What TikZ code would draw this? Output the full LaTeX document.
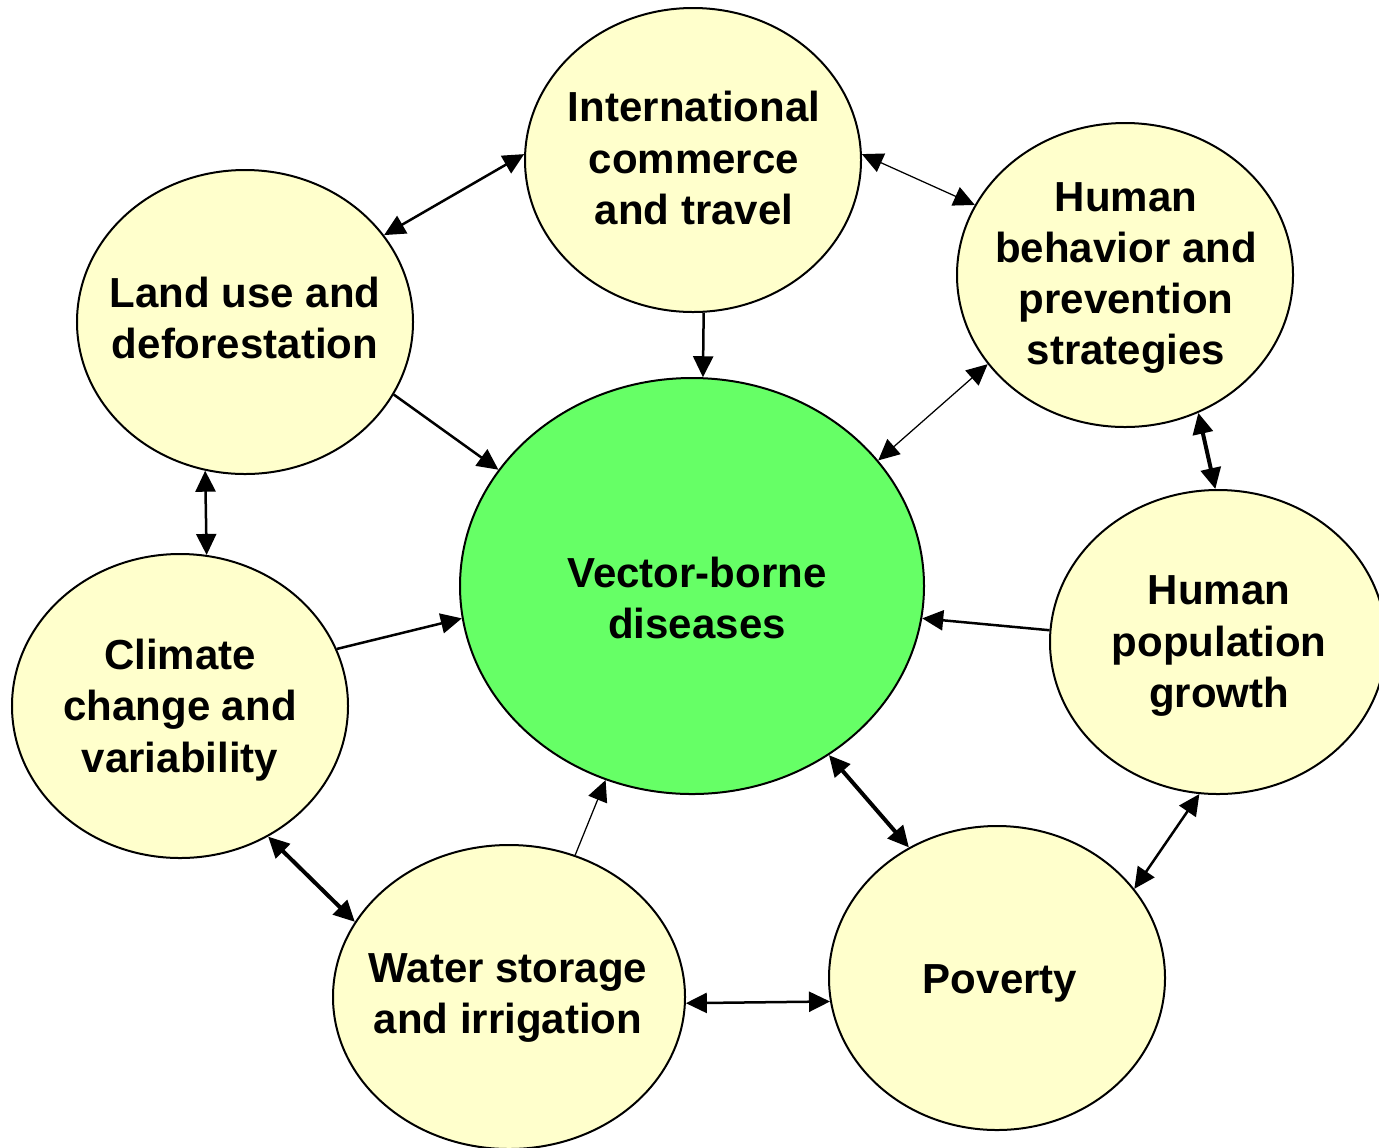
\documentclass[tikz,border=0pt]{standalone}
\usepackage{fontspec}
\setmainfont{Liberation Sans}
\usetikzlibrary{shapes.geometric,arrows.meta}
\definecolor{paleyellow}{HTML}{FFFFCC}
\definecolor{brightgreen}{HTML}{66FF66}
\begin{document}
\begin{tikzpicture}[x=0.2mm,y=-0.2mm,
  bubble/.style={ellipse,draw=black,line width=0.4mm,inner sep=0pt},
  factor/.style={bubble,fill=paleyellow,minimum width=67.2mm,minimum height=60.8mm},
  caption/.style={align=center,font=\fontsize{23.9}{29.2}\selectfont\bfseries},
  link/.style={line width=0.5mm,-{Triangle[length=4.2mm,width=4mm]}},
  dlink/.style={line width=0.5mm,{Triangle[length=4.2mm,width=4mm]}-{Triangle[length=4.2mm,width=4mm]}},
  thin link/.style={line width=0.25mm},
  thick link/.style={line width=0.8mm}]
\useasboundingbox (0,0) rectangle (1379,1147);

% outer factors (shapes, then their captions)
\node[factor] (intl) at (693,160) {};
\node[factor] (behav) at (1125,275) {};
\node[factor] (land) at (245,322) {};
\node[factor] (pop) at (1218,642) {};
\node[factor] (clim) at (180,706) {};
\node[factor,minimum width=70.4mm] (water) at (509,997) {};
\node[factor] (pov) at (997,978) {};

\node[caption] (intltext) at (694,158) {International\\commerce\\and travel};
\node[caption] (behavtext) at (1126,278) {Human\\behavior and\\prevention\\strategies};
\node[caption] (landtext) at (245,318) {Land use and\\deforestation};
\node[caption] (poptext) at (1219,646) {Human\\population\\growth};
\node[caption] (climtext) at (180,710) {Climate\\change and\\variability};
\node[caption] (watertext) at (508,998) {Water storage\\and irrigation};
\node[caption] (povtext) at (1000,983) {Poverty};

% central outcome
\node[bubble,fill=brightgreen,minimum width=92.8mm,minimum height=83.2mm] (vbd) at (692,586) {};
\node[caption] (vbdtext) at (697,598) {Vector-borne\\diseases};

% interactions between factors
\draw[dlink] (land.32) -- (intl.178);
\draw[dlink,thin link] (intl.2) -- (behav.155.4);
\draw[dlink,thick link] (behav.-62.6) -- (pop.91.5);
\draw[dlink] (land.-105.2) -- (clim.80.6);
\draw[dlink] (pop.-97.4) -- (pov.33.1);
\draw[dlink,thick link] (clim.-56.7) -- (water.154.7);
\draw[dlink] (water.-2) -- (pov.188.5);

% influences on vector-borne diseases
\draw[link] (intl.-86.7) -- (vbd.87.2);
\draw[link] (land.-26.7) -- (vbd.149.6);
\draw[dlink,thin link] (behav.213.3) -- (vbd.34.5);
\draw[link] (clim.20.8) -- (vbd.188.3);
\draw[link] (pop.176.5) -- (vbd.-8.3);
\draw[dlink,thick link] (vbd.-51.3) -- (pov.124.8);
\draw[link,thin link] (water.65.1) -- (vbd.246.4);
\end{tikzpicture}
\end{document}
